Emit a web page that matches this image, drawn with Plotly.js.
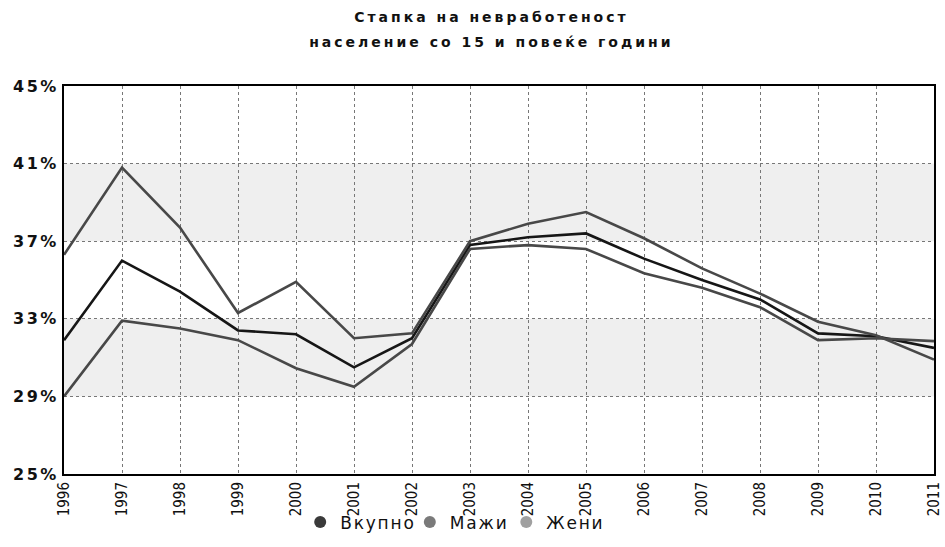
<!DOCTYPE html>
<html>
<head>
<meta charset="utf-8">
<script src="https://cdn.plot.ly/plotly-3.0.1.min.js"></script>
<style>
html,body{margin:0;padding:0;background:#fff;}
#chart{width:945px;height:547px;}
#chart .gtitle{letter-spacing:3px;}
#chart .ytick text{letter-spacing:2.5px;}
#chart .legendtext{letter-spacing:1.8px;}
</style>
</head>
<body>
<div id="chart"></div>
<script>
const years = [1996,1997,1998,1999,2000,2001,2002,2003,2004,2005,2006,2007,2008,2009,2010,2011];
const total = [31.9,36.0,34.4,32.4,32.2,30.5,32.0,36.8,37.2,37.4,36.1,35.0,34.0,32.25,32.1,31.5];
const men   = [29.0,32.9,32.5,31.9,30.45,29.5,31.7,36.6,36.8,36.6,35.35,34.6,33.6,31.9,32.0,31.85];
const women = [36.3,40.8,37.7,33.3,34.9,32.0,32.25,37.0,37.9,38.5,37.15,35.6,34.3,32.85,32.15,30.9];
const seriesNames = ['Вкупно','Мажи','Жени'];
const yTicks = [25,29,33,37,41,45];
const bands = [[29,33],[37,41]];

const lineColors = ['#161616','#484848','#484848'];
const legendColors = ['#3a3a3a','#7a7a7a','#a0a0a0'];
const seriesVals = [total, men, women];

const traces = [];
seriesVals.forEach((vals,i)=>{
  traces.push({x: years, y: vals, mode:'lines', name: seriesNames[i], showlegend:false,
    line:{color: lineColors[i], width: 2.6}, hoverinfo:'skip'});
});
seriesNames.forEach((n,i)=>{
  traces.push({x:[null], y:[null], mode:'markers', name:n, showlegend:true,
    marker:{color: legendColors[i], size: 12, symbol:'circle'}});
});

const shapes = bands.map(b=>({type:'rect', xref:'paper', yref:'y', x0:0, x1:1, y0:b[0], y1:b[1],
  fillcolor:'#efefef', line:{width:0}, layer:'below'}));

const layout = {
  width:945, height:547,
  margin:{l:64, r:11, t:86, b:73, autoexpand:false},
  paper_bgcolor:'#fff', plot_bgcolor:'#fff',
  title:{text:'<span style="font-size:14px"><b>Стапка на невработеност</b></span><br><span style="font-size:14px"><b>население со 15 и повеќе години</b></span>',
    x:0.52, xanchor:'center', xref:'container', yref:'container', y:0.959, yanchor:'top',
    font:{family:'DejaVu Sans, Verdana, sans-serif', size:19, color:'#111'}},
  xaxis:{range:[1996,2011], tickmode:'array', tickvals: years, ticktext: years.map(String),
    tickangle:-90, showgrid:true, gridcolor:'#777', griddash:'dot', gridwidth:1, automargin:false,
    showline:true, linecolor:'#000', linewidth:2, mirror:true, ticks:'', zeroline:false,
    tickfont:{family:'DejaVu Sans Condensed, DejaVu Sans, sans-serif', size:15, color:'#111'}},
  yaxis:{range:[25,45], tickmode:'array', tickvals: yTicks, ticktext: yTicks.map(v=>'<b>'+v+'%</b>'),
    showgrid:true, gridcolor:'#777', griddash:'dot', gridwidth:1, automargin:false,
    showline:true, linecolor:'#000', linewidth:2, mirror:true, ticks:'', zeroline:false,
    tickfont:{family:'DejaVu Sans, Verdana, sans-serif', size:16, color:'#111'}},
  shapes: shapes,
  showlegend:true,
  legend:{orientation:'h', x:0.478, xanchor:'center', xref:'container', yref:'container', y:0.045, yanchor:'middle',
    bgcolor:'rgba(0,0,0,0)',
    font:{family:'DejaVu Sans, Verdana, sans-serif', size:17, color:'#111'},
    itemsizing:'constant', traceorder:'normal', itemwidth:30}
};
Plotly.newPlot('chart', traces, layout, {staticPlot:true, displayModeBar:false});
</script>
</body>
</html>
